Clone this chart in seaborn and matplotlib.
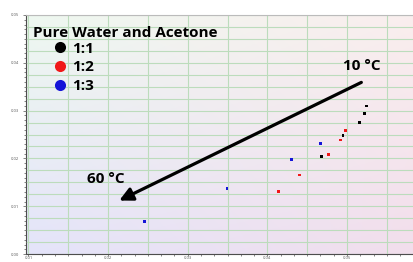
import numpy as np
import pandas as pd
import matplotlib
matplotlib.use('Agg')
import matplotlib.pyplot as plt
from matplotlib.ticker import MultipleLocator, FormatStrFormatter
import seaborn as sns

# dati
x_11 = [0.04684, 0.04949, 0.05161, 0.05219, 0.05249]
y_11 = [0.02039, 0.02475, 0.02753, 0.02940, 0.03098]
x_12 = [0.04135, 0.04405, 0.04763, 0.04915, 0.04978]
y_12 = [0.01307, 0.01654, 0.02081, 0.02386, 0.02579]
x_13 = [0.02459, 0.03494, 0.04300, 0.04667]
y_13 = [0.00678, 0.01376, 0.01977, 0.02317]
ratios = ['1:1', '1:2', '1:3']
legend_title = 'Pure Water and Acetone'
arrow_tail = (0.0518, 0.0359)
arrow_head = (0.0214, 0.0112)
label_hot = '60 °C'
label_cold = '10 °C'

df = pd.concat([
    pd.DataFrame({'x': x_11, 'y': y_11, 'ratio': ratios[0]}),
    pd.DataFrame({'x': x_12, 'y': y_12, 'ratio': ratios[1]}),
    pd.DataFrame({'x': x_13, 'y': y_13, 'ratio': ratios[2]}),
])

sns.set_style('white')
plt.rcParams['font.family'] = ['Open Sans', 'DejaVu Sans']
plt.rcParams['text.color'] = 'black'

fig = plt.figure(figsize=(4.13, 2.62), dpi=100)
ax = fig.add_axes([0.063, 0.03, 0.945, 0.913])

xmin, xmax, ymin, ymax = 0.0097, 0.0587, 0.0, 0.05
ax.set_xlim(xmin, xmax)
ax.set_ylim(ymin, ymax)

# sfondo sfumato
tl = np.array([238, 248, 240]) / 255
bl = np.array([228, 228, 250]) / 255
tr = np.array([250, 238, 238]) / 255
br = np.array([242, 222, 236]) / 255
u = np.linspace(0, 1, 200)[None, :, None]
v = np.linspace(0, 1, 120)[:, None, None]
grad = (1 - v) * ((1 - u) * tl + u * tr) + v * ((1 - u) * bl + u * br)
ax.imshow(grad, extent=[xmin, xmax, ymin, ymax], aspect='auto', zorder=0, origin='upper')

ax.xaxis.set_major_locator(MultipleLocator(0.005))
ax.yaxis.set_major_locator(MultipleLocator(0.0025))
ax.grid(True, color='#bcdcbc', lw=0.8, zorder=1)
ax.set_axisbelow(True)

palette = {'1:1': 'black', '1:2': '#f01818', '1:3': '#1414d8'}
sns.scatterplot(data=df, x='x', y='y', hue='ratio', palette=palette, marker='s',
                s=4, edgecolor='none', ax=ax, zorder=3)

# etichette assi piccole
sec_x = ax.secondary_xaxis('bottom')
sec_x.xaxis.set_major_locator(MultipleLocator(0.01))
sec_x.xaxis.set_minor_locator(MultipleLocator(0.01 / 6))
sec_x.xaxis.set_major_formatter(FormatStrFormatter('%.2f'))
sec_x.tick_params(which='both', labelsize=3, colors='#555555', length=1.3, width=0.5, pad=0.3)
sec_x.tick_params(which='minor', length=1.1)
sec_y = ax.secondary_yaxis('left')
sec_y.yaxis.set_major_locator(MultipleLocator(0.01))
sec_y.yaxis.set_minor_locator(MultipleLocator(0.001))
sec_y.yaxis.set_major_formatter(FormatStrFormatter('%.2f'))
sec_y.tick_params(which='both', labelsize=3, colors='#555555', length=2, width=0.5, pad=3)
sec_y.tick_params(which='minor', length=1.5)
ax.tick_params(which='both', bottom=False, left=False, labelbottom=False, labelleft=False)
ax.set_xlabel('')
ax.set_ylabel('')
for sp in ['top', 'right']:
    ax.spines[sp].set_visible(False)
ax.spines['left'].set_color('#555555')
ax.spines['bottom'].set_color('#555555')
ax.spines['left'].set_linewidth(0.6)
ax.spines['bottom'].set_linewidth(0.6)
fig.add_artist(plt.Line2D([0.063, 1.0], [0.943, 0.943], color='#bbbbbb', lw=0.8))

ax.annotate('', xy=arrow_head, xytext=arrow_tail,
            arrowprops=dict(arrowstyle='-|>', lw=2.3, color='black', mutation_scale=20,
                            shrinkA=0, shrinkB=0), zorder=4)
ax.text(arrow_tail[0], 0.0394, label_cold, fontsize=11, fontweight='bold', ha='center', va='center')
ax.text(0.0197, 0.0158, label_hot, fontsize=11, fontweight='bold', ha='center', va='center')

# titolo legenda e voci
ax.text(0.018, 0.925, legend_title, transform=ax.transAxes, fontsize=11,
        fontweight='bold', ha='left', va='center')
leg = ax.legend(loc='upper left', bbox_to_anchor=(0.064, 0.888),
                frameon=False, handlelength=1.2, handletextpad=0.2, labelspacing=0.3,
                borderpad=0, borderaxespad=0, prop={'weight': 'bold', 'size': 11})
for t in leg.get_texts():
    t.set_color('black')
for h in leg.legend_handles:
    h.set_marker('o')
    h.set_markersize(8)

fig.savefig('out.png', dpi=100)
